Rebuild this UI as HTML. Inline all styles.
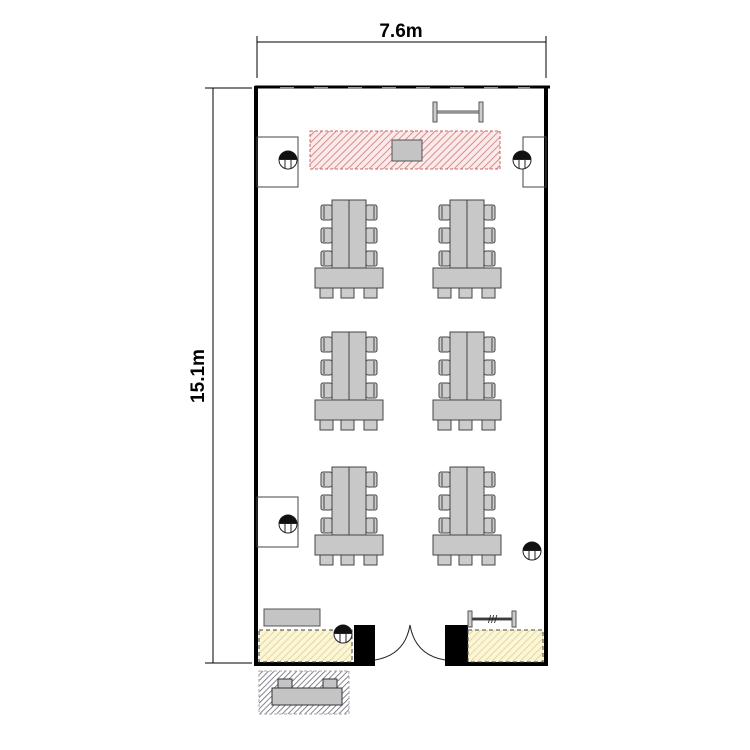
<!DOCTYPE html>
<html><head><meta charset="utf-8"><style>body{margin:0;background:#fff}svg{display:block}</style></head><body>
<svg width="750" height="750" viewBox="0 0 750 750" xmlns="http://www.w3.org/2000/svg" font-family="Liberation Sans, sans-serif">
<defs>
<pattern id="red" width="5" height="5" patternUnits="userSpaceOnUse" patternTransform="rotate(45)"><rect width="5" height="5" fill="#fbeaea"/><line x1="0" y1="0" x2="0" y2="5" stroke="#c77" stroke-width="1.6"/></pattern>
<pattern id="yel" width="5" height="5" patternUnits="userSpaceOnUse" patternTransform="rotate(45)"><rect width="5" height="5" fill="#fcf6d6"/><line x1="0" y1="0" x2="0" y2="5" stroke="#d8cf90" stroke-width="1.5"/></pattern>
<pattern id="blu" width="4" height="4" patternUnits="userSpaceOnUse" patternTransform="rotate(45)"><rect width="4" height="4" fill="#fff"/><line x1="0" y1="0" x2="0" y2="4" stroke="#667" stroke-width="1.6"/></pattern>
<g id="chs"><rect x="0" y="0" width="11" height="15" rx="2" fill="#ccc" stroke="#444"/><line x1="3" y1="1" x2="3" y2="14" stroke="#444"/></g>
<g id="grp" stroke="#444" fill="#c8c8c8">
<use href="#chs" x="321" y="205"/><use href="#chs" x="321" y="228"/><use href="#chs" x="321" y="251"/>
<g transform="translate(743,0) scale(-1,1)"><use href="#chs" x="366" y="205"/><use href="#chs" x="366" y="228"/><use href="#chs" x="366" y="251"/></g>
<rect x="332" y="200" width="17" height="68"/><rect x="349" y="200" width="17" height="68"/>
<rect x="315" y="268" width="68" height="20"/>
<rect x="320" y="288" width="13" height="10" fill="#ccc"/><rect x="341" y="288" width="13" height="10" fill="#ccc"/><rect x="364" y="288" width="13" height="10" fill="#ccc"/>
</g>
<g id="col"><circle r="9" fill="#fff" stroke="#222"/><path d="M-9,0 A9,9 0 0 1 9,0 Z" fill="#111"/><line x1="-3" y1="-1" x2="-3" y2="8" stroke="#222"/><line x1="3" y1="-1" x2="3" y2="8" stroke="#222"/><rect x="-9" y="-1" width="18" height="1" fill="#222"/></g>
</defs>
<line x1="257" y1="42" x2="546" y2="42" stroke="#000"/>
<line x1="257" y1="36" x2="257" y2="78" stroke="#000"/><line x1="546" y1="36" x2="546" y2="78" stroke="#000"/>
<text x="401" y="37" font-size="19" font-weight="bold" text-anchor="middle">7.6m</text>
<line x1="213" y1="88" x2="213" y2="663" stroke="#000"/>
<line x1="205" y1="88" x2="252" y2="88" stroke="#000"/><line x1="205" y1="663" x2="252" y2="663" stroke="#000"/>
<text transform="translate(204,376) rotate(-90)" font-size="19" font-weight="bold" text-anchor="middle">15.1m</text>
<rect x="256" y="88" width="290" height="576" fill="#fff"/>
<line x1="255" y1="87" x2="550" y2="87" stroke="#000" stroke-width="3"/>
<g stroke="#999" stroke-width="2"><line x1="280" y1="88" x2="530" y2="88" stroke-dasharray="14,20"/></g>
<line x1="256" y1="86" x2="256" y2="666" stroke="#000" stroke-width="4"/>
<line x1="546" y1="86" x2="546" y2="666" stroke="#000" stroke-width="4"/>
<line x1="254" y1="664" x2="375" y2="664" stroke="#000" stroke-width="4"/>
<line x1="445" y1="664" x2="548" y2="664" stroke="#000" stroke-width="4"/>
<g fill="#ccc" stroke="#555"><rect x="433" y="102" width="4" height="20"/><rect x="479" y="102" width="4" height="20"/><rect x="437" y="111" width="42" height="2"/></g>
<rect x="310" y="131" width="190" height="38" fill="url(#red)" stroke="#c66" stroke-dasharray="3,2"/>
<rect x="392" y="140" width="30" height="21" fill="#c4c4c4" stroke="#555"/>
<rect x="257" y="137" width="41" height="50" fill="none" stroke="#444"/>
<rect x="523" y="137" width="23" height="50" fill="none" stroke="#444"/>
<use href="#col" x="288" y="160"/><use href="#col" x="522" y="160"/>
<rect x="257" y="497" width="41" height="50" fill="none" stroke="#444"/>
<use href="#col" x="288" y="524"/><use href="#col" x="532" y="551"/>
<use href="#grp"/><use href="#grp" x="118"/>
<use href="#grp" y="132"/><use href="#grp" x="118" y="132"/>
<use href="#grp" y="267"/><use href="#grp" x="118" y="267"/>
<rect x="264" y="609" width="56" height="17" fill="#c4c4c4" stroke="#555"/>
<rect x="259" y="630" width="93" height="32" fill="url(#yel)" stroke="#444" stroke-dasharray="4,3"/>
<use href="#col" x="343" y="634"/>
<rect x="354" y="625" width="21" height="40" fill="#000"/>
<rect x="445" y="625" width="23" height="40" fill="#000"/>
<rect x="468" y="630" width="75" height="32" fill="url(#yel)" stroke="#444" stroke-dasharray="4,3"/>
<g fill="#ccc" stroke="#555"><rect x="468" y="611" width="4" height="16"/><rect x="512" y="611" width="4" height="16"/><rect x="472" y="618" width="40" height="2" fill="#222"/></g>
<text x="488" y="623" font-size="11" fill="#222">///</text>
<path d="M375,660 Q405,655 410,625" fill="none" stroke="#222"/>
<path d="M445,660 Q415,655 410,625" fill="none" stroke="#222"/>
<rect x="259" y="671" width="90" height="43" fill="url(#blu)" stroke="#aaa" stroke-dasharray="3,2"/>
<g fill="#c4c4c4" stroke="#333"><rect x="278" y="679" width="14" height="10"/><rect x="323" y="679" width="14" height="10"/><rect x="272" y="688" width="70" height="17"/></g>
</svg>
</body></html>
